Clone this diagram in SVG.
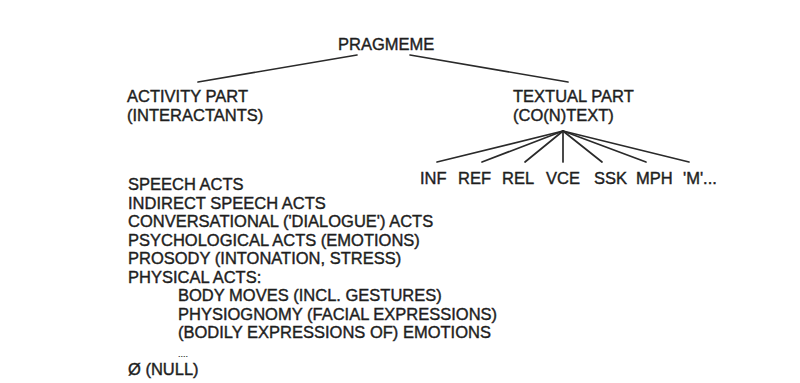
<svg xmlns="http://www.w3.org/2000/svg" width="800" height="383" viewBox="0 0 800 383">
<style>
text{font-family:"Liberation Sans",Arial,sans-serif;font-size:16.5px;fill:#1e1e1e;stroke:#1e1e1e;stroke-width:0.4}
.c line{stroke:#2a2a2a;stroke-width:1.7;stroke-linecap:round}
</style>
<rect width="800" height="383" fill="#fff"/>
<g class="c" id="connectors">
<line x1="357" y1="55" x2="198" y2="82"/>
<line x1="410" y1="55" x2="568" y2="82"/>
<line x1="563" y1="131" x2="437" y2="162"/>
<line x1="563" y1="131" x2="482" y2="162"/>
<line x1="563" y1="131" x2="525" y2="162"/>
<line x1="563" y1="131" x2="563" y2="162"/>
<line x1="563" y1="131" x2="602" y2="162"/>
<line x1="563" y1="131" x2="646" y2="162"/>
<line x1="563" y1="131" x2="689" y2="162"/>
</g>
<g id="pragmeme"><text x="338" y="50">PRAGMEME</text></g>
<g id="activity"><text x="127" y="102">ACTIVITY PART</text><text x="127" y="121">(INTERACTANTS)</text></g>
<g id="textual"><text x="513" y="102">TEXTUAL PART</text><text x="513" y="121">(CO(N)TEXT)</text></g>
<g id="inf"><text x="420" y="184">INF</text></g>
<g id="ref"><text x="458" y="184">REF</text></g>
<g id="rel"><text x="502" y="184">REL</text></g>
<g id="vce"><text x="546" y="184">VCE</text></g>
<g id="ssk"><text x="594" y="184">SSK</text></g>
<g id="mph"><text x="636" y="184">MPH</text></g>
<g id="m"><text x="683" y="184">'M'...</text></g>
<g id="activity-list">
<text x="128" y="190">SPEECH ACTS</text>
<text x="128" y="208.5">INDIRECT SPEECH ACTS</text>
<text x="128" y="227">CONVERSATIONAL ('DIALOGUE') ACTS</text>
<text x="128" y="245.5">PSYCHOLOGICAL ACTS (EMOTIONS)</text>
<text x="128" y="264">PROSODY (INTONATION, STRESS)</text>
<text x="128" y="282.5">PHYSICAL ACTS:</text>
<text x="178" y="301">BODY MOVES (INCL. GESTURES)</text>
<text x="178" y="319.5">PHYSIOGNOMY (FACIAL EXPRESSIONS)</text>
<text x="178" y="338">(BODILY EXPRESSIONS OF) EMOTIONS</text>
<text x="178" y="356.5" style="font-size:9px;stroke-width:0.2">....</text>
<text x="128" y="375">Ø (NULL)</text>
</g>
</svg>
